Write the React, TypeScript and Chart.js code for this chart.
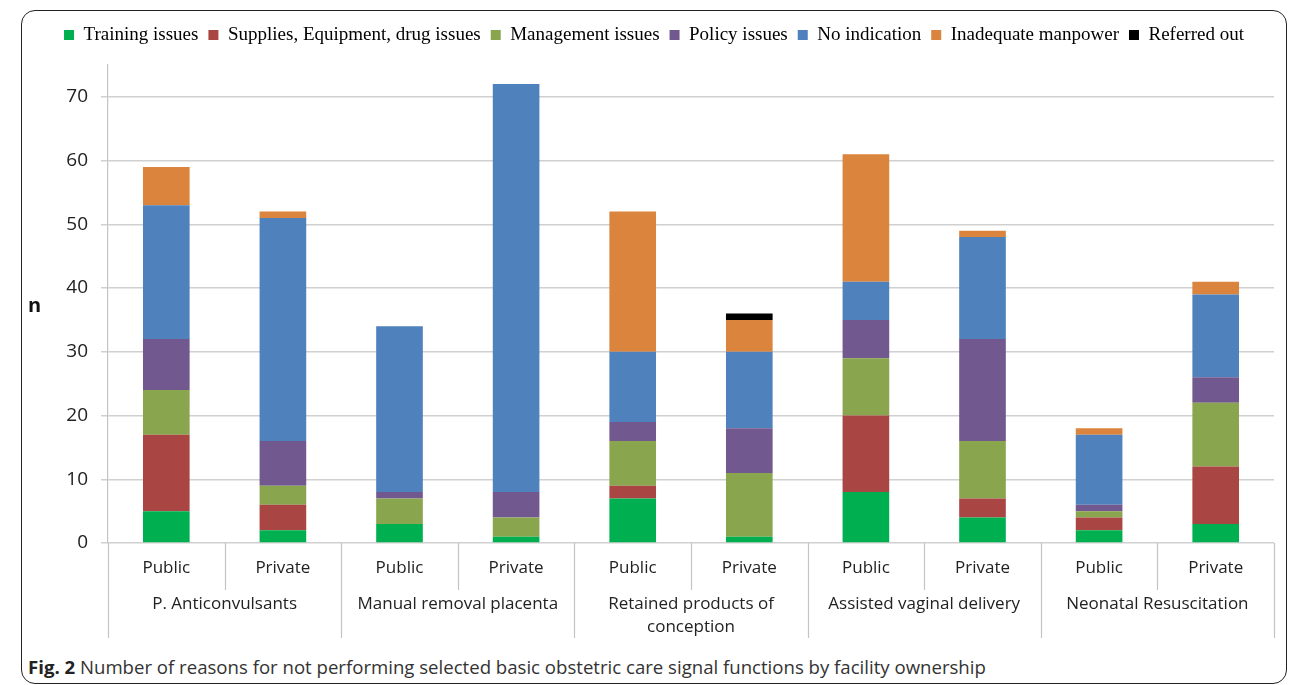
import React, { useEffect, useRef } from "react";
import { Chart, registerables } from "chart.js";

Chart.register(...registerables);

const categories = ["Public", "Private", "Public", "Private", "Public", "Private", "Public", "Private", "Public", "Private"];
const groupLabels: (string | string[])[] = [
  "P. Anticonvulsants",
  "Manual removal placenta",
  ["Retained products of", "conception"],
  "Assisted vaginal delivery",
  "Neonatal Resuscitation",
];
const yTicks = [0, 10, 20, 30, 40, 50, 60, 70];

const training = [5, 2, 3, 1, 7, 1, 8, 4, 2, 3];
const supplies = [12, 4, 0, 0, 2, 0, 12, 3, 2, 9];
const management = [7, 3, 4, 3, 7, 10, 9, 9, 1, 10];
const policy = [8, 7, 1, 4, 3, 7, 6, 16, 1, 4];
const noIndication = [21, 35, 26, 64, 11, 12, 6, 16, 11, 13];
const manpower = [6, 1, 0, 0, 22, 5, 20, 1, 1, 2];
const referredOut = [0, 0, 0, 0, 0, 1, 0, 0, 0, 0];

const seriesNames = [
  "Training issues",
  "Supplies, Equipment, drug issues",
  "Management issues",
  "Policy issues",
  "No indication",
  "Inadequate manpower",
  "Referred out",
];
const seriesData = [training, supplies, management, policy, noIndication, manpower, referredOut];
const seriesColors = ["#00b050", "#a94643", "#89a54e", "#71588f", "#4f81bd", "#db843d", "#000000"];

const sepPlugin = {
  id: "separators",
  afterDraw(chart: any) {
    const x = chart.scales.x;
    const x2 = chart.scales.x2;
    const ctx = chart.ctx;
    const n = categories.length;
    const half = (x.getPixelForValue(1) - x.getPixelForValue(0)) / 2;
    ctx.save();
    ctx.strokeStyle = "#c4c4c4";
    ctx.lineWidth = 1.2;
    for (let i = 0; i <= n; i++) {
      const px = i < n ? x.getPixelForValue(i) - half : x.getPixelForValue(n - 1) + half;
      const bottom = i % 2 === 0 ? x2.bottom : x.bottom;
      ctx.beginPath();
      ctx.moveTo(Math.round(px) + 0.5, chart.chartArea.bottom);
      ctx.lineTo(Math.round(px) + 0.5, bottom);
      ctx.stroke();
    }
    ctx.restore();
  },
};

export default function App() {
  const canvasRef = useRef<HTMLCanvasElement | null>(null);

  useEffect(() => {
    if (!canvasRef.current) return;
    const chart = new Chart(canvasRef.current, {
      type: "bar",
      data: {
        labels: categories,
        datasets: seriesNames.map((name, i) => ({
          label: name,
          data: seriesData[i],
          backgroundColor: seriesColors[i],
          borderWidth: 0,
          barPercentage: 0.4,
          categoryPercentage: 1,
          stack: "s",
        })),
      },
      plugins: [sepPlugin],
      options: {
        animation: false,
        responsive: false,
        maintainAspectRatio: false,
        layout: { padding: { left: 0, right: 28, top: 2.5, bottom: 5 } },
        plugins: {
          tooltip: { enabled: false },
          legend: {
            position: "top",
            weight: 1000,
            labels: {
              font: { family: "'Liberation Serif', 'Times New Roman', serif", size: 19 },
              color: "#000",
              boxWidth: 10,
              boxHeight: 10,
              padding: 10,
            },
          } as any,
          title: {
            display: true,
            text: "",
            weight: 500,
            font: { size: 10, lineHeight: 1 },
            padding: { top: 0, bottom: 0.5 },
          } as any,
        },
        scales: {
          x: {
            type: "category",
            stacked: true,
            offset: true,
            weight: 0,
            grid: { display: false, drawTicks: false },
            border: { display: false },
            ticks: {
              font: { family: "'Open Sans', sans-serif", size: 17 },
              color: "#222",
              padding: 15,
              maxRotation: 0,
              autoSkip: false,
            },
            afterFit: (s: any) => {
              s.height = 47;
            },
          },
          x2: {
            type: "category",
            labels: groupLabels as any,
            position: "bottom",
            offset: true,
            weight: 1,
            grid: { display: false, drawTicks: false },
            border: { display: false },
            ticks: {
              font: { family: "'Open Sans', sans-serif", size: 17, lineHeight: "23px" },
              color: "#222",
              padding: 2.5,
              maxRotation: 0,
              autoSkip: false,
            },
            afterFit: (s: any) => {
              s.height = 48;
            },
          },
          y: {
            stacked: true,
            min: 0,
            max: 75,
            ticks: {
              stepSize: 10,
              font: { family: "'Open Sans', sans-serif", size: 19 },
              color: "#222",
              padding: 13,
            },
            afterBuildTicks: (s: any) => {
              s.ticks = yTicks.map((v) => ({ value: v }));
            },
            grid: { color: "#d0d0d0", lineWidth: 1.5, tickLength: 7, drawTicks: true },
            border: { display: true, color: "#c4c4c4", width: 1.2 },
            afterFit: (s: any) => {
              s.width = 74;
            },
          },
        },
      } as any,
    });
    return () => chart.destroy();
  }, []);

  return (
    <div
      style={{
        position: "fixed",
        left: 0,
        top: 0,
        width: 1290,
        height: 685,
        background: "#fff",
        overflow: "hidden",
      }}
    >
      <div
        style={{
          position: "absolute",
          left: 21,
          top: 10,
          width: 1266,
          height: 674,
          border: "1.5px solid #222",
          borderRadius: 14,
          boxSizing: "border-box",
        }}
      />
      <canvas
        ref={canvasRef}
        width={1268}
        height={630}
        style={{ position: "absolute", left: 34, top: 13, width: 1268, height: 630 }}
      />
      <div
        style={{
          position: "absolute",
          left: 28,
          top: 293,
          fontFamily: "'Open Sans', sans-serif",
          fontWeight: 700,
          fontSize: 20,
          lineHeight: "24px",
          color: "#111",
        }}
      >
        n
      </div>
      <div
        style={{
          position: "absolute",
          left: 28,
          top: 654,
          fontFamily: "'Open Sans', sans-serif",
          fontSize: 18.6,
          lineHeight: "26px",
          color: "#333",
          whiteSpace: "nowrap",
        }}
      >
        <b style={{ color: "#222" }}>Fig. 2</b> Number of reasons for not performing selected basic obstetric care signal functions by facility ownership
      </div>
    </div>
  );
}
